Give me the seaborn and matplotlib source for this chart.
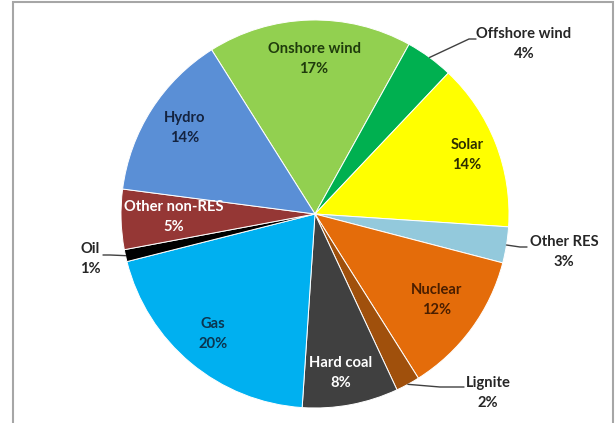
import matplotlib
matplotlib.use("Agg")
import matplotlib.pyplot as plt
from matplotlib.patches import Rectangle
import numpy as np
import seaborn as sns

# Electricity generation mix, shares in percent (clockwise order)
sources = ["Onshore wind", "Offshore wind", "Solar", "Other RES", "Nuclear",
           "Lignite", "Hard coal", "Gas", "Oil", "Other non-RES", "Hydro"]
shares = [17, 4, 14, 3, 12, 2, 8, 20, 1, 5, 14]
slice_colors = ["#92D050", "#00B050", "#FFFF00", "#93C9DC", "#E46C0A",
                "#A0500C", "#404040", "#00B0F0", "#000000", "#953735", "#5A8FD6"]
label_colors = ["#1F3B0C", "#262626", "#2E2E00", "#262626", "#4A1E00",
                "#262626", "#FFFFFF", "#0B3550", "#262626", "#FFFFFF", "#14233F"]
outside = {"Offshore wind", "Other RES", "Lignite", "Oil"}

sns.set_theme(style="white")
plt.rcParams["font.family"] = ["Lato", "DejaVu Sans"]

W, H = 616, 423
fig = plt.figure(figsize=(W / 100, H / 100), dpi=100)
cx, cy, R = 315, 214, 194
ax = fig.add_axes([(cx - R) / W, (H - cy - R) / H, 2 * R / W, 2 * R / H])

palette = sns.color_palette(slice_colors)
start = 122.2
wedges, _ = ax.pie(shares, colors=palette, startangle=start, counterclock=False,
                   radius=1.0, wedgeprops=dict(edgecolor="white", linewidth=0.7))
ax.set_xlim(-1, 1)
ax.set_ylim(-1, 1)
ax.set_aspect("equal")
ax.axis("off")


def to_data(px, py):
    return (px - cx) / R, (cy - py) / R


# label centres (pixels) for each slice
label_pos = {
    "Onshore wind": (314, 59), "Offshore wind": (524, 44), "Solar": (467, 155),
    "Other RES": (564, 252), "Nuclear": (437, 300), "Lignite": (488, 393),
    "Hard coal": (341, 373), "Gas": (213, 334), "Oil": (90, 259),
    "Other non-RES": (174, 217), "Hydro": (185, 128),
}
# leader line bends (pixels) for labels placed outside the pie
leader_bend = {
    "Offshore wind": [(469, 39), (476, 39)],
    "Other RES": [(520, 247), (527, 247)],
    "Lignite": [(440, 387), (464, 387)],
    "Oil": [(110, 255), (103, 255)],
}

cum = 0.0
total = float(sum(shares))
for name, val, tc in zip(sources, shares, label_colors):
    mid = start - 360.0 * (cum + val / 2) / total
    cum += val
    lx, ly = to_data(*label_pos[name])
    ax.text(lx, ly, f"{name}\n{val}%", ha="center", va="center", fontsize=10.6,
            fontweight="bold", color=tc, linespacing=1.5, clip_on=False)
    if name in outside:
        ex, ey = np.cos(np.radians(mid)), np.sin(np.radians(mid))
        pts = [(ex, ey)] + [to_data(*p) for p in leader_bend[name]]
        xs, ys = zip(*pts)
        ax.plot(xs, ys, color="#404040", lw=1.0, clip_on=False)

fig.patches.append(Rectangle((13 / W, -0.02), 600 / W, (H - 2) / H + 0.02,
                             transform=fig.transFigure, fill=False,
                             edgecolor="#A6A6A6", lw=1.5))

fig.savefig("out.png", dpi=100)
